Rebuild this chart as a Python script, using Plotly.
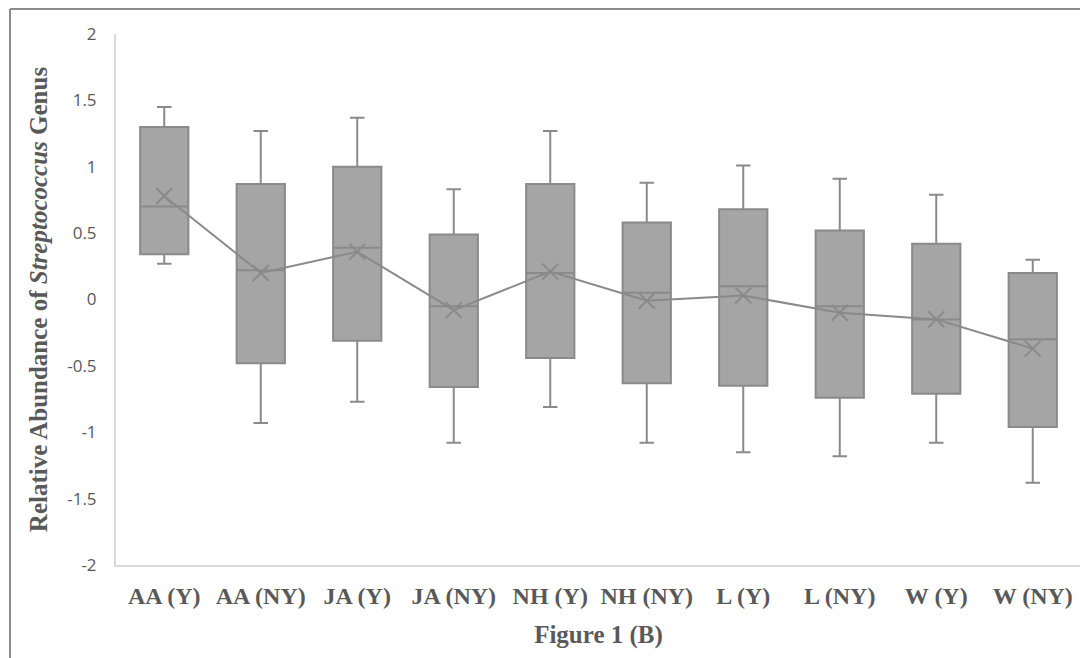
import plotly.graph_objects as go

categories = ["AA (Y)", "AA (NY)", "JA (Y)", "JA (NY)", "NH (Y)",
              "NH (NY)", "L (Y)", "L (NY)", "W (Y)", "W (NY)"]
upper_whisker = [1.45, 1.27, 1.37, 0.83, 1.27, 0.88, 1.01, 0.91, 0.79, 0.30]
q3_values     = [1.30, 0.87, 1.00, 0.49, 0.87, 0.58, 0.68, 0.52, 0.42, 0.20]
median_values = [0.70, 0.22, 0.39, -0.05, 0.20, 0.05, 0.10, -0.05, -0.15, -0.30]
mean_values   = [0.78, 0.20, 0.36, -0.08, 0.21, -0.01, 0.03, -0.10, -0.15, -0.37]
q1_values     = [0.34, -0.48, -0.31, -0.66, -0.44, -0.63, -0.65, -0.74, -0.71, -0.96]
lower_whisker = [0.27, -0.93, -0.77, -1.08, -0.81, -1.08, -1.15, -1.18, -1.08, -1.38]
y_ticks = [-2, -1.5, -1, -0.5, 0, 0.5, 1, 1.5, 2]

fill_color = "#a5a5a5"
line_color = "#8a8a8a"
text_color = "#595959"
serif = "Liberation Serif, Times New Roman, serif"

W, H = 1080, 650
L, R, T, B = 108, 7, 26, 93
pw, ph = W - L - R, H - T - B

fig = go.Figure()
fig.add_trace(go.Box(
    x=categories,
    q1=q1_values, median=median_values, q3=q3_values,
    lowerfence=lower_whisker, upperfence=upper_whisker,
    fillcolor=fill_color,
    line=dict(color=line_color, width=2),
    whiskerwidth=0.3,
    width=0.5,
    boxpoints=False,
    showlegend=False,
    hoverinfo="skip",
))
fig.add_trace(go.Scatter(
    x=categories, y=mean_values,
    mode="lines+markers",
    line=dict(color=line_color, width=2),
    marker=dict(symbol="x-thin", size=16, line=dict(color=line_color, width=2)),
    showlegend=False,
))

fig.update_layout(
    width=W, height=H,
    margin=dict(l=L, r=R, t=T, b=B),
    paper_bgcolor="white", plot_bgcolor="white",
    xaxis=dict(
        type="category",
        range=[-0.5, len(categories) - 0.5],
        showgrid=False, zeroline=False,
        showline=True, linecolor="#d9d9d9", linewidth=2,
        tickfont=dict(family=serif, size=24, color=text_color, weight="bold"),
        ticklabelstandoff=8,
        title=dict(text="<b>Figure 1 (B)</b>",
                   font=dict(family=serif, size=25, color=text_color),
                   standoff=18),
    ),
    yaxis=dict(
        range=[-2, 2],
        tickvals=y_ticks,
        ticktext=[f"{v:g}" for v in y_ticks],
        showgrid=False, zeroline=False,
        showline=True, linecolor="#d9d9d9", linewidth=2,
        tickfont=dict(family="Open Sans, Liberation Sans, sans-serif", size=17, color=text_color),
        ticklabelstandoff=14,
        title=dict(text="<b>Relative Abundance of <i>Streptococcus</i> Genus</b>",
                   font=dict(family=serif, size=25, color=text_color),
                   standoff=12),
    ),
    shapes=[
        dict(type="line", xref="paper", yref="paper",
             x0=-(L - 2) / pw, x1=1 + R / pw, y0=1 + (T - 1) / ph, y1=1 + (T - 1) / ph,
             line=dict(color="#8c8c8c", width=2)),
        dict(type="line", xref="paper", yref="paper",
             x0=-(L - 2) / pw, x1=-(L - 2) / pw, y0=1 + (T - 1) / ph, y1=-B / ph,
             line=dict(color="#8c8c8c", width=2)),
    ],
)

fig.write_html("out.html")
